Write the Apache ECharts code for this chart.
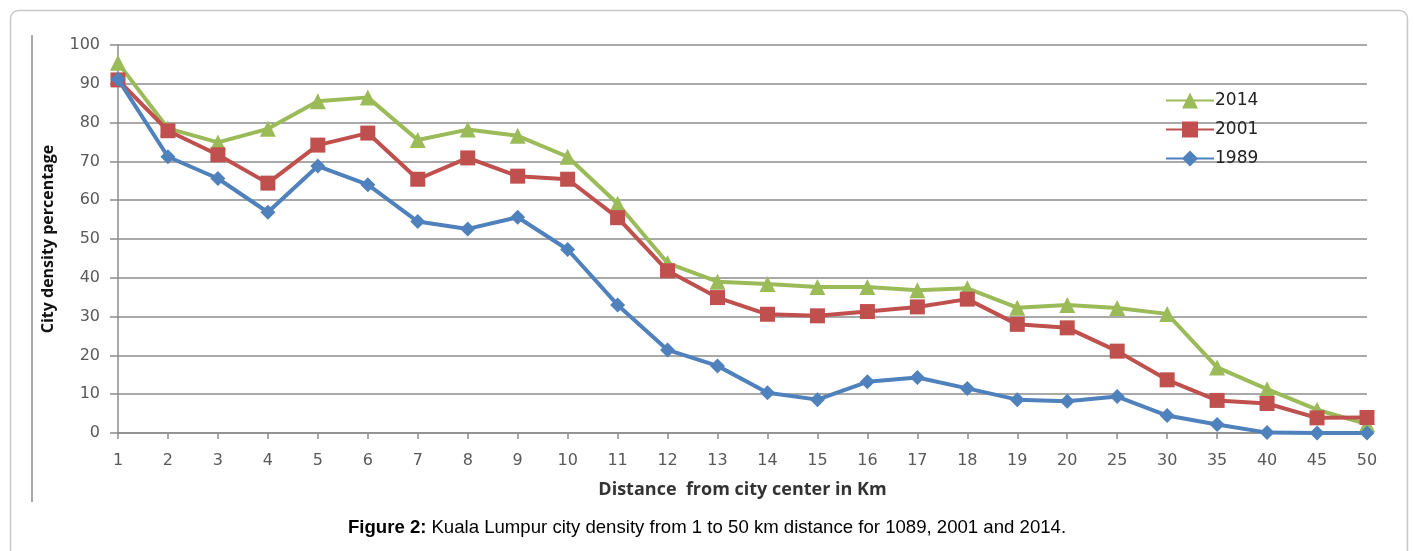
<!DOCTYPE html>
<html>
<head>
<meta charset="utf-8">
<script src="https://cdn.jsdelivr.net/npm/echarts@6/dist/echarts.min.js"></script>
<style>
html,body{margin:0;padding:0;background:#fff;}
#c{width:1414px;height:551px;}
</style>
</head>
<body>
<div id="c"></div>
<script>
const categories = ['1','2','3','4','5','6','7','8','9','10','11','12','13','14','15','16','17','18','19','20','25','30','35','40','45','50'];
const s2014 = [95.4,78.5,74.9,78.4,85.5,86.5,75.5,78.2,76.6,71.2,59.1,43.8,39,38.4,37.6,37.6,36.8,37.3,32.3,33,32.2,30.7,16.9,11.3,6,2.3];
const s2001 = [91,77.9,71.7,64.4,74.2,77.3,65.4,70.9,66.2,65.4,55.5,41.8,34.9,30.6,30.2,31.3,32.5,34.5,28,27.1,21.1,13.7,8.4,7.6,3.9,4];
const s1989 = [91.2,71.2,65.6,56.9,68.8,64,54.5,52.6,55.6,47.3,33,21.4,17.3,10.4,8.6,13.2,14.3,11.5,8.6,8.2,9.4,4.5,2.2,0.1,0,0];
const seriesNames = ['2014','2001','1989'];
const yTicks = {min:0, max:100, interval:10};

const chart = echarts.init(document.getElementById('c'));
const labelFont = {fontFamily:'DejaVu Sans', fontSize:16, color:'#595959'};
chart.setOption({
  animation:false,
  backgroundColor:'#fff',
  title:{
    text:'{b|Figure 2:} {n|Kuala Lumpur city density from 1 to 50 km distance for 1089, 2001 and 2014.}',
    left:'center', top:513,
    textStyle:{fontWeight:'normal', rich:{
      b:{fontFamily:'Liberation Sans', fontWeight:'bold', fontSize:18.6, color:'#000'},
      n:{fontFamily:'Liberation Sans', fontWeight:'normal', fontSize:18.6, color:'#000'}
    }}
  },
  graphic:[
    {type:'rect', shape:{x:10.5,y:10.5,width:1397,height:560,r:8}, style:{fill:'none', stroke:'#c8c8c8', lineWidth:1.5}, silent:true},
    {type:'line', shape:{x1:32,y1:35,x2:32,y2:502}, style:{stroke:'#8c8c8c', lineWidth:1.5}, silent:true}
  ],
  legend:{
    data:seriesNames,
    orient:'vertical',
    left:1160, top:87,
    itemWidth:48, itemHeight:20, itemGap:12,
    textStyle:{fontFamily:'DejaVu Sans', fontSize:17, color:'#222', padding:[0,0,0,-4]}
  },
  grid:{left:118, right:47, top:45, bottom:118},
  xAxis:{
    type:'category', data:categories, boundaryGap:false,
    name:'Distance  from city center in Km', nameLocation:'middle', nameGap:48,
    nameTextStyle:{fontFamily:'Open Sans', fontWeight:'bold', fontSize:18, color:'#333'},
    axisLine:{lineStyle:{color:'#8c8c8c', width:1.5}},
    axisTick:{show:true, alignWithLabel:true, length:6, lineStyle:{color:'#8c8c8c', width:1.5}},
    axisLabel:Object.assign({margin:20, interval:0}, labelFont),
    splitLine:{show:false}
  },
  yAxis:{
    type:'value', min:yTicks.min, max:yTicks.max, interval:yTicks.interval,
    name:'City density percentage', nameLocation:'middle', nameGap:62,
    nameTextStyle:{fontFamily:'Open Sans', fontWeight:'bold', fontSize:16, color:'#111'},
    axisLine:{show:true, lineStyle:{color:'#8c8c8c', width:1.5}},
    axisTick:{show:true, length:8, lineStyle:{color:'#8c8c8c', width:1.5}},
    axisLabel:Object.assign({margin:18}, labelFont),
    splitLine:{show:true, lineStyle:{color:'#8c8c8c', width:1.5}}
  },
  series:[
    {name:'2014', type:'line', data:s2014, symbol:'triangle', symbolSize:16, showAllSymbol:true,
     lineStyle:{color:'#9BBB59', width:4}, itemStyle:{color:'#9BBB59'}, z:2},
    {name:'2001', type:'line', data:s2001, symbol:'rect', symbolSize:15, showAllSymbol:true,
     lineStyle:{color:'#C0504D', width:4}, itemStyle:{color:'#C0504D'}, z:3},
    {name:'1989', type:'line', data:s1989, symbol:'diamond', symbolSize:15, showAllSymbol:true,
     lineStyle:{color:'#4F81BD', width:4}, itemStyle:{color:'#4F81BD'}, z:4}
  ]
});
</script>
</body>
</html>
